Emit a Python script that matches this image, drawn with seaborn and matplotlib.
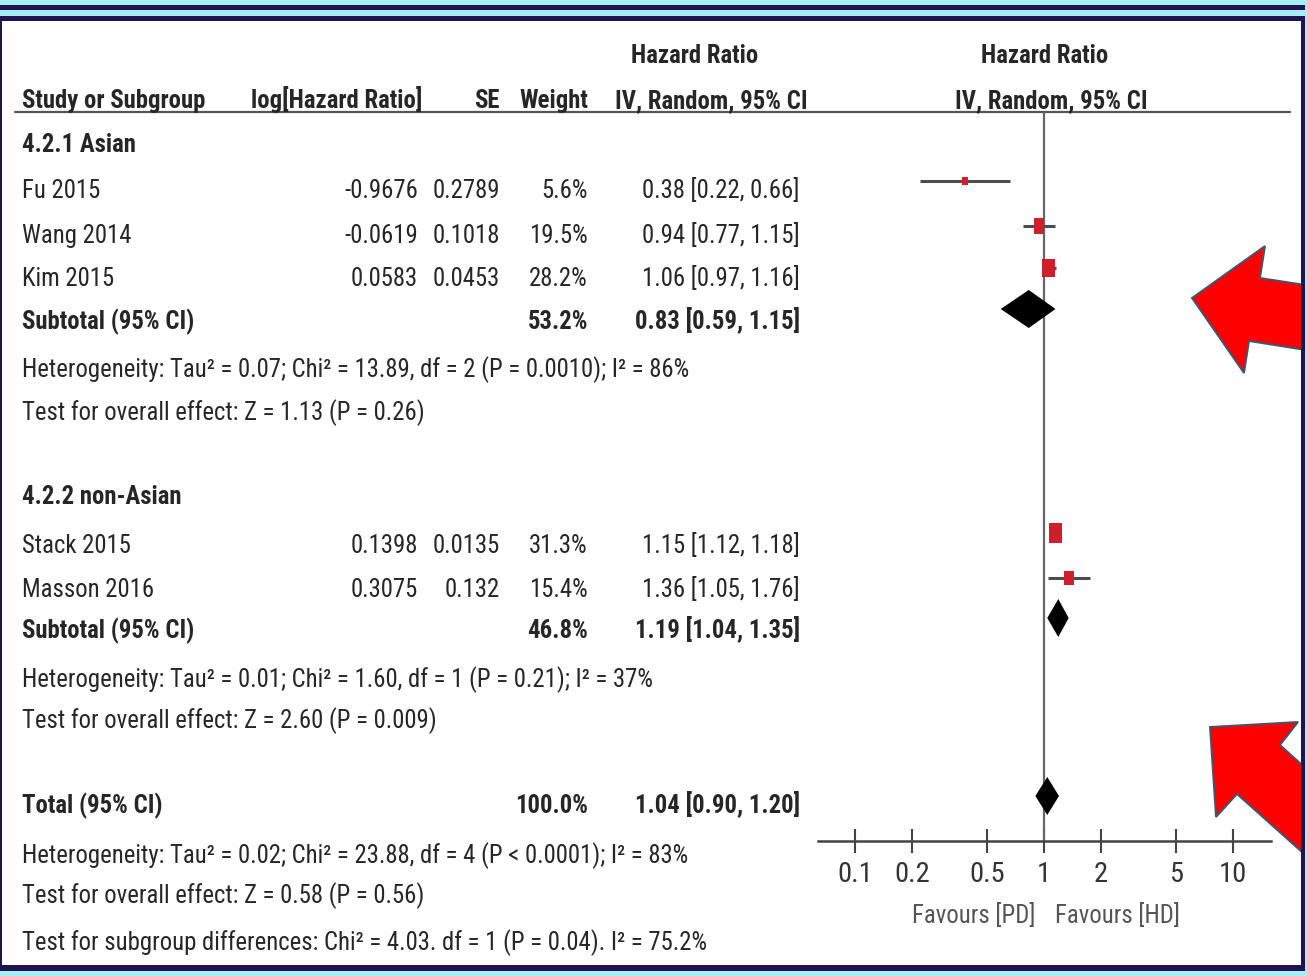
import numpy as np
import pandas as pd
import matplotlib.pyplot as plt
import matplotlib.font_manager as fm
import seaborn as sns
from matplotlib.path import Path
from matplotlib.patches import Polygon, Rectangle
from matplotlib.ticker import NullLocator

# ---- data ----
groups = ["4.2.1 Asian", "4.2.2 non-Asian"]
studies = ["Fu 2015", "Wang 2014", "Kim 2015", "Stack 2015", "Masson 2016"]
log_hr = [-0.9676, -0.0619, 0.0583, 0.1398, 0.3075]
se = ["0.2789", "0.1018", "0.0453", "0.0135", "0.132"]
weight = [5.6, 19.5, 28.2, 31.3, 15.4]
hr = [0.38, 0.94, 1.06, 1.15, 1.36]
ci_lo = [0.22, 0.77, 0.97, 1.12, 1.05]
ci_hi = [0.66, 1.15, 1.16, 1.18, 1.76]

sub_weight = [53.2, 46.8]
sub_hr = [0.83, 1.19]
sub_lo = [0.59, 1.04]
sub_hi = [1.15, 1.35]
sub_het = ["Heterogeneity: Tau² = 0.07; Chi² = 13.89, df = 2 (P = 0.0010); I² = 86%",
           "Heterogeneity: Tau² = 0.01; Chi² = 1.60, df = 1 (P = 0.21); I² = 37%"]
sub_test = ["Test for overall effect: Z = 1.13 (P = 0.26)",
            "Test for overall effect: Z = 2.60 (P = 0.009)"]

total_weight = 100.0
total_hr, total_lo, total_hi = 1.04, 0.90, 1.20
total_notes = ["Heterogeneity: Tau² = 0.02; Chi² = 23.88, df = 4 (P < 0.0001); I² = 83%",
               "Test for overall effect: Z = 0.58 (P = 0.56)",
               "Test for subgroup differences: Chi² = 4.03. df = 1 (P = 0.04). I² = 75.2%"]

ticks = [0.1, 0.2, 0.5, 1, 2, 5, 10]
tick_labels = ["0.1", "0.2", "0.5", "1", "2", "5", "10"]

# ---- layout (pixel rows, text baselines) ----
W, H = 1307, 976
group_y = [152, 504]
study_y = [198, 243, 286, 553, 597]
sub_y = [329, 638]
het_y = [377, 687]
test_y = [420, 728]
total_y = 813
notes_y = [863, 903, 950]
plot_shift = [-17, -17, -18, -20, -19]
INK = "#262626"
RED = "#cf1f2a"
NAVY = "#1f1450"
CYAN = "#a3eff4"
FS = 19.5

sns.set_theme(style="white")

# the original uses a narrow sans; take a condensed face if one is installed
family, stretch = 'Liberation Sans', 'normal'
condensed = {f.name for f in fm.fontManager.ttflist
             if f.stretch == 'condensed' or 'Narrow' in f.name or 'Condensed' in f.name}
for cand in ['Liberation Sans Narrow', 'Arial Narrow', 'Roboto Condensed',
             'Noto Sans', 'Open Sans', 'Open Sans Condensed']:
    if cand in condensed:
        family, stretch = cand, 'condensed'
        break
plt.rcParams['font.family'] = [family, 'DejaVu Sans']
plt.rcParams['font.stretch'] = stretch

fig = plt.figure(figsize=(W / 100, H / 100), dpi=100, facecolor=CYAN)

bg = fig.add_axes([0, 0, 1, 1])
bg.set_xlim(0, W)
bg.set_ylim(H, 0)
bg.axis('off')
bg.add_patch(Rectangle((0, 20), 1302, 945, fc='white', ec='none'))

# fit text size so the long heterogeneity line spans about as wide as in the original
probe = bg.text(0, 0, sub_het[0], fontsize=FS)
k = 670 / probe.get_window_extent(fig.canvas.get_renderer()).width
probe.remove()
FS = FS * min(k, 1.1)


def put(x, y, s, ha='left', bold=False, size=None, color=INK):
    bg.text(x, y, s, ha=ha, va='baseline', fontsize=size or FS, color=color,
            fontweight='bold' if bold else 'normal')


# headers
put(695, 63, "Hazard Ratio", ha='center', bold=True)
put(1045, 63, "Hazard Ratio", ha='center', bold=True)
put(22, 108, "Study or Subgroup", bold=True)
put(422, 108, "log[Hazard Ratio]", ha='right', bold=True)
put(500, 108, "SE", ha='right', bold=True)
put(588, 108, "Weight", ha='right', bold=True)
put(808, 108, "IV, Random, 95% CI", ha='right', bold=True)
put(1051, 108, "IV, Random, 95% CI", ha='center', bold=True)
bg.plot([15, 1290], [112, 112], color='#555555', lw=1.6)

df = pd.DataFrame({"study": studies, "log_hr": log_hr, "se": se, "weight": weight,
                   "hr": hr, "lo": ci_lo, "hi": ci_hi, "y": study_y})
df["py"] = df["y"] + np.array(plot_shift)

for _, r in df.iterrows():
    put(22, r.y, r.study)
    put(418, r.y, f"{r.log_hr:g}", ha='right')
    put(500, r.y, r.se, ha='right')
    put(588, r.y, f"{r.weight:.1f}%", ha='right')
    put(800, r.y, f"{r.hr:.2f} [{r.lo:.2f}, {r.hi:.2f}]", ha='right')

for g in range(2):
    put(22, group_y[g], groups[g], bold=True)
    put(22, sub_y[g], "Subtotal (95% CI)", bold=True)
    put(588, sub_y[g], f"{sub_weight[g]:.1f}%", ha='right', bold=True)
    put(800, sub_y[g], f"{sub_hr[g]:.2f} [{sub_lo[g]:.2f}, {sub_hi[g]:.2f}]", ha='right', bold=True)
    put(22, het_y[g], sub_het[g])
    put(22, test_y[g], sub_test[g])

put(22, total_y, "Total (95% CI)", bold=True)
put(588, total_y, f"{total_weight:.1f}%", ha='right', bold=True)
put(800, total_y, f"{total_hr:.2f} [{total_lo:.2f}, {total_hi:.2f}]", ha='right', bold=True)
for y, s in zip(notes_y, total_notes):
    put(22, y, s)

put(1035, 923, "Favours [PD]", ha='right', size=FS, color='#555555')
put(1055, 923, "Favours [HD]", size=FS, color='#555555')

# ---- forest panel (log x, pixel rows) ----
ax = fig.add_axes([818 / W, 0, (1271 - 818) / W, 1])
ax.set_facecolor('none')
ax.set_xscale('log')
ax.set_xlim(10 ** -1.196, 10 ** 1.201)
ax.set_ylim(H, 0)

ax.vlines(1, 112, 841, color='#666666', lw=1.6, zorder=1)
ax.hlines(df["py"], df["lo"], df["hi"], color='#4d4d4d', lw=2.2, zorder=2)

box = Path([(-0.5, -0.725), (0.5, -0.725), (0.5, 0.725), (-0.5, 0.725), (-0.5, -0.725)],
           [Path.MOVETO, Path.LINETO, Path.LINETO, Path.LINETO, Path.CLOSEPOLY])
sns.scatterplot(data=df, x="hr", y="py", s=df["weight"] * 6.6, marker=box,
                color=RED, edgecolor=RED, linewidth=0, legend=False, ax=ax, zorder=3)

dia_y = [sub_y[0] - 20, sub_y[1] - 20, total_y - 17]
for c, lo, hi, y in zip(sub_hr + [total_hr], sub_lo + [total_lo], sub_hi + [total_hi], dia_y):
    ax.fill([lo, c, hi, c], [y, y - 19, y, y + 19], color='black', lw=0, zorder=3)

for side in ['left', 'right', 'top']:
    ax.spines[side].set_visible(False)
ax.spines['bottom'].set_position(('data', 841))
ax.spines['bottom'].set_color('#444444')
ax.spines['bottom'].set_linewidth(1.8)
ax.set_xticks(ticks)
ax.set_xticklabels(tick_labels)
ax.xaxis.set_minor_locator(NullLocator())
ax.set_yticks([])
ax.set_xlabel("")
ax.set_ylabel("")
ax.tick_params(axis='x', bottom=True, direction='inout', length=17, width=1.5,
               color='#444444', labelsize=FS * 1.15, labelcolor='#333333', pad=6)

# ---- overlay: arrows and frame ----
top = fig.add_axes([0, 0, 1, 1])
top.set_xlim(0, W)
top.set_ylim(H, 0)
top.axis('off')
top.set_facecolor('none')

arrow1 = [(1192, 298), (1265, 246), (1260, 278), (1312, 286), (1312, 351), (1249, 341), (1244, 373)]
arrow2 = [(1210, 727), (1298, 722), (1280, 745), (1312, 774), (1312, 861), (1237, 794), (1216, 817)]
for pts in (arrow1, arrow2):
    top.add_patch(Polygon(pts, closed=True, fc='#ff0000', ec='#3f5670', lw=1.4, zorder=1))

frame = [
    (0, 5, W, 5.2, NAVY),
    (0, 15.5, W, 5.2, NAVY),
    (1300.5, 15, 4.5, 956, NAVY),
    (0, 965, 1305, 5.5, NAVY),
    (0, 15, 2, 955, NAVY),
    (1305, 0, 2, H, CYAN),
    (0, 970.5, W, 5.5, CYAN),
    (0, 10.2, W, 5.3, CYAN),
    (0, 0, W, 5, CYAN),
]
for x, y, w, h, c in frame:
    top.add_patch(Rectangle((x, y), w, h, fc=c, ec='none', zorder=3))

fig.savefig("out.png", dpi=100, facecolor=CYAN)
